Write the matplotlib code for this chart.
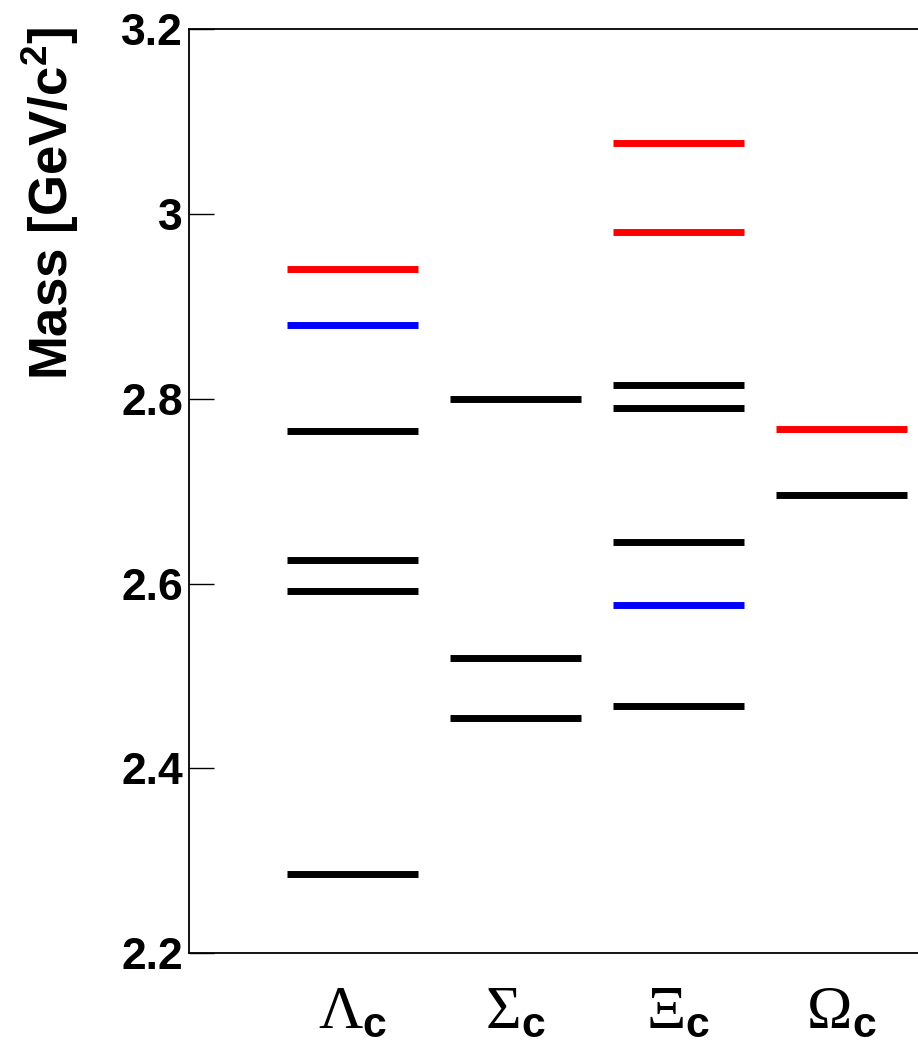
import matplotlib
matplotlib.use('Agg')
import matplotlib.pyplot as plt
from matplotlib.ticker import FuncFormatter

plt.rcParams['font.family'] = 'Liberation Sans'
plt.rcParams['mathtext.fontset'] = 'custom'
plt.rcParams['mathtext.rm'] = 'Liberation Serif'
plt.rcParams['mathtext.bf'] = 'Liberation Sans:bold'

# charmed baryon states, masses in GeV/c^2
labels = [r'$\mathrm{\Lambda}_{\mathbf{c}}$', r'$\mathrm{\Sigma}_{\mathbf{c}}$',
          r'$\mathrm{\Xi}_{\mathbf{c}}$', r'$\mathrm{\Omega}_{\mathbf{c}}$']

lambda_c = [2.286, 2.592, 2.625, 2.765, 2.880, 2.940]
lambda_c_col = ['black', 'black', 'black', 'black', 'blue', 'red']

sigma_c = [2.455, 2.520, 2.800]
sigma_c_col = ['black', 'black', 'black']

xi_c = [2.468, 2.577, 2.645, 2.790, 2.815, 2.980, 3.077]
xi_c_col = ['black', 'blue', 'black', 'black', 'black', 'red', 'red']

omega_c = [2.696, 2.767]
omega_c_col = ['black', 'red']

states = [(lambda_c, lambda_c_col), (sigma_c, sigma_c_col),
          (xi_c, xi_c_col), (omega_c, omega_c_col)]

W, H = 918, 1043
fig = plt.figure(figsize=(W / 100, H / 100), dpi=100)
ax = fig.add_axes([189.4 / W, 1 - 953.3 / H, 4.5 * 163.07 / W, 924.3 / H])

for i, (masses, cols) in enumerate(states):
    x = i + 1
    ax.hlines(masses, x - 0.4, x + 0.4, colors=cols, linewidth=5.0, capstyle='butt')

ax.set_xlim(0, 4.5)
ax.set_ylim(2.2, 3.2)
ax.set_yticks([2.2, 2.4, 2.6, 2.8, 3.0, 3.2])
ax.yaxis.set_major_formatter(FuncFormatter(lambda v, p: f'{v:g}'))
ax.set_xticks([1, 2, 3, 4])
ax.set_xticklabels(labels, fontsize=44)

ax.tick_params(axis='y', direction='in', length=18, width=1.0, pad=4.5,
               labelsize=32)
ax.tick_params(axis='x', length=0, pad=22)
for lab in ax.get_yticklabels():
    lab.set_fontweight('bold')

for s in ['left', 'bottom', 'top']:
    ax.spines[s].set_linewidth(1.3)
ax.spines['right'].set_visible(False)

fig.text(50 / W, 1 - 27 / H, r'Mass [GeV/c$^{\mathbf{2}}$]', rotation=90,
         ha='center', va='top', fontsize=38, fontweight='bold')

fig.savefig('out.png', dpi=100)
